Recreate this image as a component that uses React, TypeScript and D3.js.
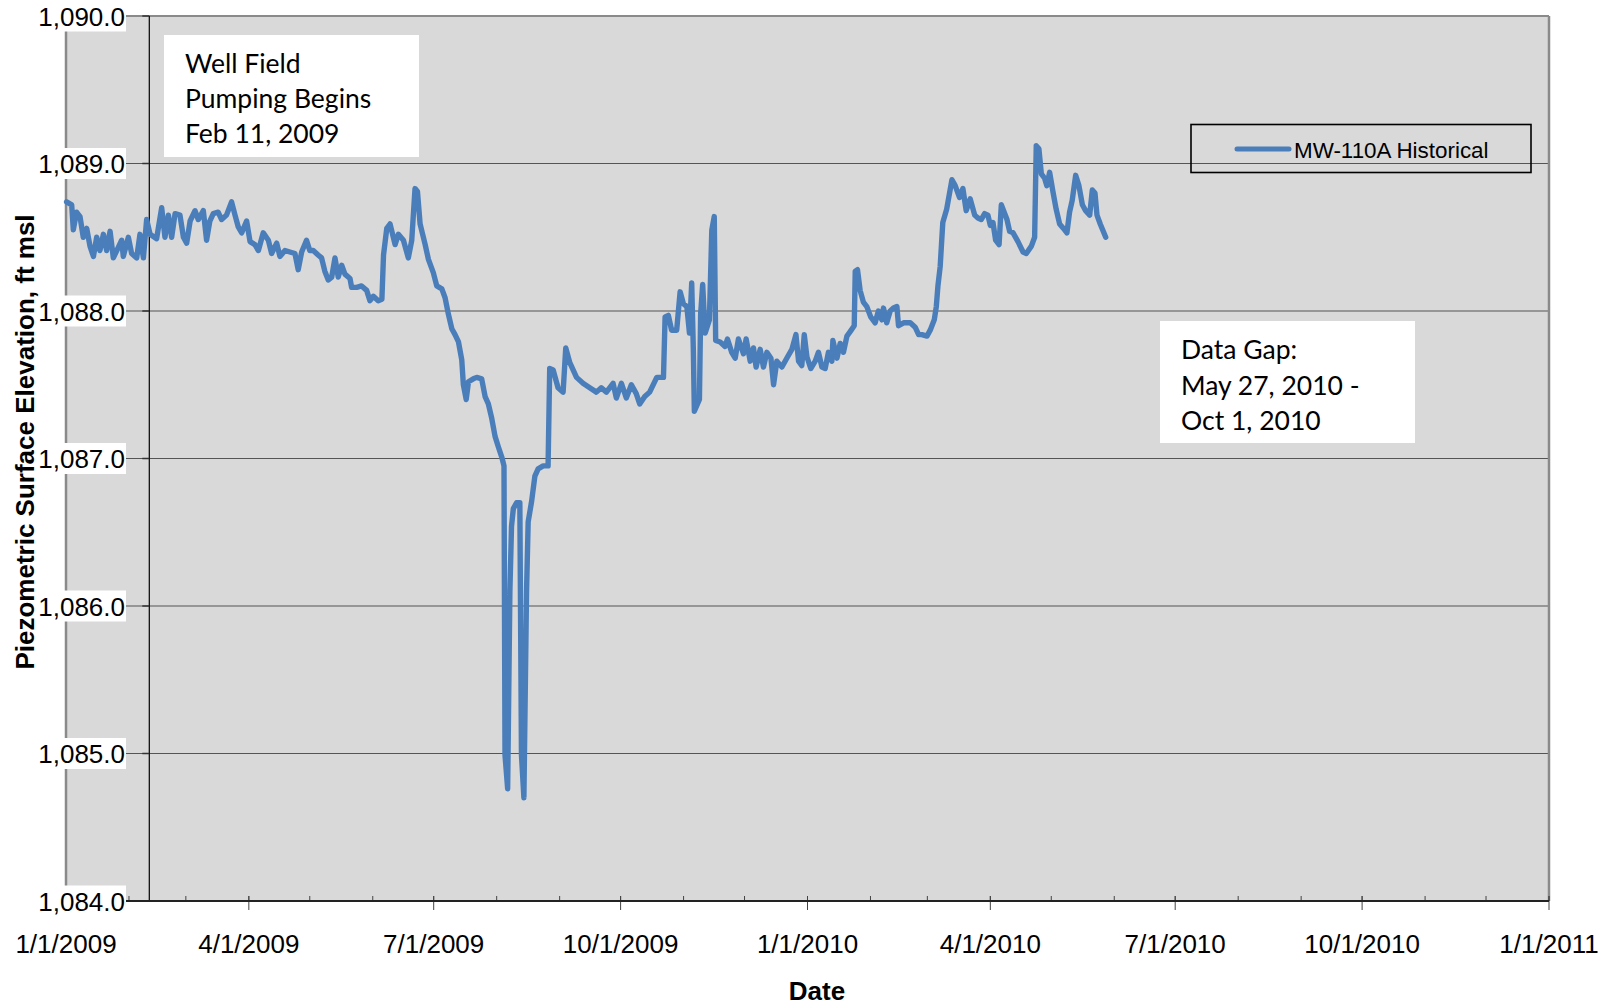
import React from "react";
import * as d3 from "d3";

// Days since 1/1/2009 and water levels (ft msl)
const startDate = "2009-01-01";
const dayOffsets = [
  0.3, 2.8, 3.6, 5.2, 6.9, 8.5, 10.2, 11.8, 13.5, 15.1, 16.7, 18.4, 20, 21.7, 23.3, 25, 27.4, 28.2, 30.7, 32.3,
  34.8, 36.4, 38.1, 39.7, 41.4, 44.6, 47.1, 48.7, 50.4, 52, 53.7, 56.1, 57.8, 59.4, 61.1, 63.5, 65.1, 67.6, 69.2, 70.8,
  72.5, 74.9, 76.6, 79, 81.5, 83.2, 84.8, 86.5, 88.9, 90.6, 93, 94.7, 97.1, 99.6, 101.2, 103.7, 105.3, 107.8, 110.2, 112.7,
  114.3, 116, 118.4, 120, 121.7, 124.1, 125.8, 127.4, 129.1, 130.8, 132.4, 134, 135.7, 137.3, 139.8, 140.6, 143.1, 145.5, 148, 149.6,
  151.3, 153.7, 155.5, 156.3, 157.9, 159.5, 162, 163.6, 166.1, 168.5, 170.2, 171.8, 173, 174.3, 176.8, 178.4, 180.8, 182.5, 185, 186.6,
  188.2, 189.9, 191.5, 193.2, 194.8, 195.6, 197, 198.1, 200.5, 202.2, 204.6, 206.3, 207.9, 209.6, 211.2, 212.8, 214.5, 215.6, 216.1, 217.4,
  218.5, 219.3, 220.2, 221.8, 223.4, 224.2, 225.4, 226.7, 227.5, 229.2, 230.8, 232.4, 234.9, 237.3, 238.1, 239.8, 242.2, 244.7, 246, 248,
  251.3, 254.5, 257.8, 261.1, 263.5, 266, 269.3, 270.9, 273.4, 275.8, 278.3, 280.7, 282.4, 284.9, 287.3, 290.8, 294.1, 294.9, 296.5, 298.1,
  300.6, 302.3, 303.9, 305.6, 306.9, 308, 308.8, 309.3, 311.8, 312.4, 313.4, 314.6, 316.7, 317.9, 319.1, 319.8, 322, 324.4, 325.6, 327.7,
  329.4, 331, 333.5, 334.8, 336.8, 338.4, 339.7, 341.7, 343.3, 345, 347, 348.3, 349.9, 352.4, 354.8, 357.3, 359.3, 360.6, 362.2, 363.4,
  364.7, 366.6, 368.8, 370.4, 372.1, 373.7, 375.3, 377, 377.5, 379.5, 381.1, 382.7, 384.4, 386, 388, 388.5, 389.6, 390.9, 392.5, 394.2,
  396.1, 398.3, 399.9, 401.6, 402.4, 404, 405.7, 407.3, 409, 409.8, 412.3, 415.6, 418, 419.7, 421.3, 423.8, 425.4, 427.4, 428.4, 429.2,
  430.3, 431.6, 433.5, 436.1, 437.7, 439.8, 441.5, 443.1, 445.1, 447.3, 448.9, 450.5, 452.2, 453.8, 455, 456.3, 457.6, 459.3, 460.4, 462.1,
  463.2, 464.5, 466.2, 468.6, 471.1, 472.7, 475.2, 476.8, 477.6, 478.9, 480.1, 481.7, 482.8, 484.2, 485.8, 487.4, 489.1, 491, 492.7, 494,
  495.3, 497, 498.6, 500.3, 501.9, 503.9, 505.2, 506.5, 507.5, 509.1, 511.8,
];
const levels = [
  1088.74, 1088.72, 1088.55, 1088.67, 1088.64, 1088.5, 1088.56, 1088.44, 1088.37, 1088.5, 1088.41, 1088.52, 1088.41, 1088.54, 1088.36, 1088.41, 1088.48, 1088.37, 1088.5, 1088.39,
  1088.36, 1088.52, 1088.36, 1088.62, 1088.52, 1088.49, 1088.7, 1088.5, 1088.65, 1088.5, 1088.66, 1088.65, 1088.5, 1088.46, 1088.61, 1088.68, 1088.62, 1088.68, 1088.48, 1088.61,
  1088.66, 1088.67, 1088.62, 1088.65, 1088.74, 1088.65, 1088.57, 1088.53, 1088.61, 1088.47, 1088.45, 1088.41, 1088.53, 1088.48, 1088.39, 1088.46, 1088.37, 1088.41, 1088.4, 1088.39,
  1088.28, 1088.4, 1088.48, 1088.41, 1088.41, 1088.38, 1088.36, 1088.27, 1088.21, 1088.23, 1088.36, 1088.23, 1088.31, 1088.25, 1088.22, 1088.16, 1088.16, 1088.17, 1088.14, 1088.07,
  1088.1, 1088.07, 1088.08, 1088.38, 1088.56, 1088.59, 1088.45, 1088.52, 1088.48, 1088.36, 1088.48, 1088.83, 1088.81, 1088.59, 1088.45, 1088.35, 1088.26, 1088.17, 1088.15, 1088.09,
  1087.98, 1087.88, 1087.84, 1087.79, 1087.67, 1087.5, 1087.4, 1087.52, 1087.54, 1087.55, 1087.54, 1087.42, 1087.37, 1087.27, 1087.15, 1087.08, 1087.01, 1086.95, 1084.99, 1084.76,
  1086.1, 1086.54, 1086.66, 1086.7, 1086.7, 1084.99, 1084.7, 1086.1, 1086.57, 1086.71, 1086.88, 1086.93, 1086.95, 1086.95, 1087.61, 1087.6, 1087.48, 1087.45, 1087.75, 1087.65,
  1087.55, 1087.51, 1087.48, 1087.45, 1087.48, 1087.45, 1087.51, 1087.41, 1087.51, 1087.41, 1087.5, 1087.44, 1087.37, 1087.42, 1087.45, 1087.55, 1087.55, 1087.96, 1087.97, 1087.87,
  1087.87, 1088.13, 1088.05, 1088.03, 1087.85, 1088.19, 1087.74, 1087.32, 1087.4, 1087.98, 1088.18, 1087.85, 1087.94, 1088.55, 1088.64, 1087.8, 1087.79, 1087.76, 1087.81, 1087.72,
  1087.68, 1087.81, 1087.71, 1087.81, 1087.66, 1087.75, 1087.62, 1087.74, 1087.62, 1087.72, 1087.68, 1087.5, 1087.66, 1087.62, 1087.68, 1087.74, 1087.84, 1087.66, 1087.63, 1087.84,
  1087.69, 1087.61, 1087.66, 1087.72, 1087.62, 1087.61, 1087.72, 1087.66, 1087.8, 1087.68, 1087.78, 1087.72, 1087.83, 1087.86, 1087.9, 1088.27, 1088.28, 1088.14, 1088.06, 1088.03,
  1087.96, 1087.92, 1088.0, 1087.94, 1088.02, 1087.92, 1088.0, 1088.02, 1088.03, 1087.9, 1087.92, 1087.92, 1087.89, 1087.84, 1087.84, 1087.83, 1087.87, 1087.94, 1088.03, 1088.17,
  1088.3, 1088.6, 1088.69, 1088.89, 1088.85, 1088.77, 1088.83, 1088.68, 1088.76, 1088.65, 1088.63, 1088.62, 1088.66, 1088.65, 1088.58, 1088.6, 1088.48, 1088.45, 1088.72, 1088.66,
  1088.62, 1088.54, 1088.53, 1088.47, 1088.4, 1088.39, 1088.44, 1088.5, 1089.12, 1089.1, 1088.93, 1088.9, 1088.85, 1088.94, 1088.81, 1088.69, 1088.59, 1088.56, 1088.53, 1088.67,
  1088.75, 1088.92, 1088.85, 1088.72, 1088.68, 1088.65, 1088.82, 1088.8, 1088.65, 1088.59, 1088.5,
];

const seriesName = "MW-110A Historical";
const yTicks = [1084, 1085, 1086, 1087, 1088, 1089, 1090];
const xDomain = ["2009-01-01", "2011-01-01"];
const pumpingStart = "2009-02-11";
const note1 = ["Well Field", "Pumping Begins", "Feb 11, 2009"];
const note2 = ["Data Gap:", "May 27, 2010 -", "Oct 1, 2010"];
const xTitle = "Date";
const yTitle = "Piezometric Surface Elevation, ft msl";

const W = 1612, H = 1008;
const L = 66, R = 1549, T = 16, B = 901;
const AX = "Liberation Sans, Arial, sans-serif";
const NOTE = "Lato, sans-serif";
const BLUE = "#4a7ebb";

export default function App() {
  const parse = d3.utcParse("%Y-%m-%d");
  const t0 = parse(startDate)!;
  const x = d3.scaleUtc().domain(xDomain.map((s) => parse(s)!)).range([L, R]);
  const y = d3.scaleLinear().domain([1084, 1090]).range([B, T]);
  const data = dayOffsets.map((d, i) => ({ date: new Date(t0.getTime() + d * 864e5), v: levels[i] }));
  const line = d3.line<{ date: Date; v: number }>().x((d) => x(d.date)).y((d) => y(d.v));
  const d0 = x.domain()[0], d1 = x.domain()[1];
  const months = d3.utcMonth.range(d0, new Date(d1.getTime() + 1));
  const quarters = d3.utcMonth.every(3)!.range(d0, new Date(d1.getTime() + 1));
  const fmtDate = d3.utcFormat("%-m/%-d/%Y");
  const fmtY = d3.format(",.1f");
  const ax = x(parse(pumpingStart)!);

  return (
    <svg width={W} height={H} style={{ position: "absolute", left: 0, top: 0, display: "block" }}>
      <rect x={0} y={0} width={W} height={H} fill="#fff" />
      <rect x={L} y={T} width={R - L} height={B - T} fill="#d9d9d9" />
      {yTicks.filter((v) => v > 1084 && v < 1090).map((v) => (
        <line key={v} x1={L} x2={R} y1={y(v)} y2={y(v)} stroke="#555" strokeWidth={1.2} />
      ))}
      {/* plot border */}
      <line x1={L} x2={R} y1={T} y2={T} stroke="#8a8a8a" strokeWidth={2} />
      <line x1={L} x2={L} y1={T} y2={B} stroke="#8a8a8a" strokeWidth={2.5} />
      <line x1={R} x2={R} y1={T} y2={B} stroke="#8a8a8a" strokeWidth={2.5} />
      {/* value axis crossing at pumping start */}
      <line x1={ax} x2={ax} y1={T} y2={B} stroke="#000" strokeWidth={1.2} />
      {yTicks.map((v) => (
        <line key={"t" + v} x1={ax - 7} x2={ax} y1={y(v)} y2={y(v)} stroke="#333" strokeWidth={1.5} />
      ))}
      {/* x axis */}
      {months.map((m) => (
        <line key={"m" + m.getTime()} x1={x(m)} x2={x(m)} y1={B - 5} y2={B} stroke="#444" strokeWidth={1} />
      ))}
      {quarters.map((m) => (
        <line key={"q" + m.getTime()} x1={x(m)} x2={x(m)} y1={B - 5} y2={B + 9} stroke="#444" strokeWidth={1} />
      ))}
      <line x1={L} x2={R} y1={B} y2={B} stroke="#222" strokeWidth={2} />
      {quarters.map((m) => (
        <text key={"ql" + m.getTime()} x={x(m)} y={953} textAnchor="middle" fontFamily={AX} fontSize={26} fill="#000">
          {fmtDate(m)}
        </text>
      ))}
      {/* data */}
      <path d={line(data) || ""} fill="none" stroke={BLUE} strokeWidth={5.4} strokeLinejoin="round" strokeLinecap="round" />
      {/* notes */}
      <rect x={164} y={35} width={255} height={122} fill="#fff" />
      {note1.map((s, i) => (
        <text key={s} x={185} y={73 + i * 35} fontFamily={NOTE} fontSize={26.5} fill="#000">{s}</text>
      ))}
      <rect x={1160} y={321} width={255} height={122} fill="#fff" />
      {note2.map((s, i) => (
        <text key={s} x={1181} y={359 + i * 35.5} fontFamily={NOTE} fontSize={26.5} fill="#000">{s}</text>
      ))}
      {/* legend */}
      <rect x={1191} y={124.5} width={340} height={48} fill="none" stroke="#000" strokeWidth={1.6} />
      <line x1={1237} x2={1289} y1={149} y2={149} stroke={BLUE} strokeWidth={5} strokeLinecap="round" />
      <text x={1294} y={157.5} fontFamily={AX} fontSize={22.4} fill="#000">{seriesName}</text>
      {/* y labels with white background */}
      {yTicks.map((v) => (
        <g key={"yl" + v}>
          <rect x={35} y={y(v) - 15.5} width={91} height={31} fill="#fff" />
          <text x={125} y={y(v) + 9.5} textAnchor="end" fontFamily={AX} fontSize={26} fill="#000">{fmtY(v)}</text>
        </g>
      ))}
      {/* titles */}
      <text x={817} y={1000} textAnchor="middle" fontFamily={AX} fontSize={26} fontWeight="bold" fill="#000">{xTitle}</text>
      <text transform={`translate(34,442) rotate(-90)`} textAnchor="middle" fontFamily={AX} fontSize={26} fontWeight="bold" fill="#000">{yTitle}</text>
    </svg>
  );
}
